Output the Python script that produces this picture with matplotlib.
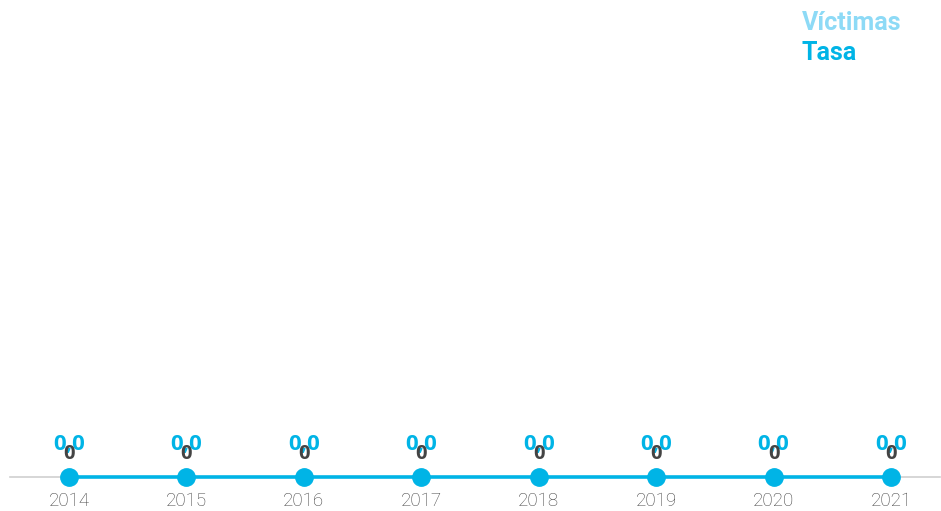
import matplotlib
matplotlib.use("Agg")
import matplotlib.pyplot as plt

years = ["2014", "2015", "2016", "2017", "2018", "2019", "2020", "2021"]
victimas = [0, 0, 0, 0, 0, 0, 0, 0]
tasa = [0.0, 0.0, 0.0, 0.0, 0.0, 0.0, 0.0, 0.0]

blue = "#00B4E6"
light_blue = "#8DDAF6"

fig = plt.figure(figsize=(9.41, 5.11), dpi=100)
W, H = 941, 511
ax = fig.add_axes([10 / W, 34 / H, 930 / W, 467 / H])
x = list(range(len(years)))
ax.set_xlim(-0.502, 7.417)
ax.set_ylim(0, 10)

ax.bar(x, victimas, width=0.5, color=light_blue, zorder=2)
ax.plot(x, tasa, color=blue, lw=2.6, marker="o", markersize=12.5, zorder=4,
        clip_on=False)

for xi, v, t in zip(x, victimas, tasa):
    ax.annotate(f"{t:.1f}".replace(".", ","), (xi, t), xytext=(0, 33),
                textcoords="offset pixels", ha="center", va="center",
                fontsize=16, fontweight="bold", color=blue, family="Open Sans",
                zorder=5)
    ax.annotate(f"{v}", (xi, v), xytext=(0, 23),
                textcoords="offset pixels", ha="center", va="center",
                fontsize=14.5, fontweight="bold", color="#444444", family="Open Sans",
                zorder=6)

for s in ["top", "left", "right"]:
    ax.spines[s].set_visible(False)
ax.spines["bottom"].set_color("#d0d0d0")
ax.spines["bottom"].set_linewidth(1.2)
ax.set_yticks([])
ax.set_xticks(x)
ax.set_xticklabels(years, fontsize=13.5, color="#444444", family="Roboto",
                   fontweight="light")
ax.tick_params(axis="x", length=0, pad=11)

fig.text(802 / W, 1 - 23 / H, "Víctimas", color=light_blue, fontsize=18,
         fontweight="bold", family="Roboto", va="center", ha="left")
fig.text(802 / W, 1 - 53 / H, "Tasa", color=blue, fontsize=18,
         fontweight="bold", family="Roboto", va="center", ha="left")

fig.savefig("out.png", dpi=100)
